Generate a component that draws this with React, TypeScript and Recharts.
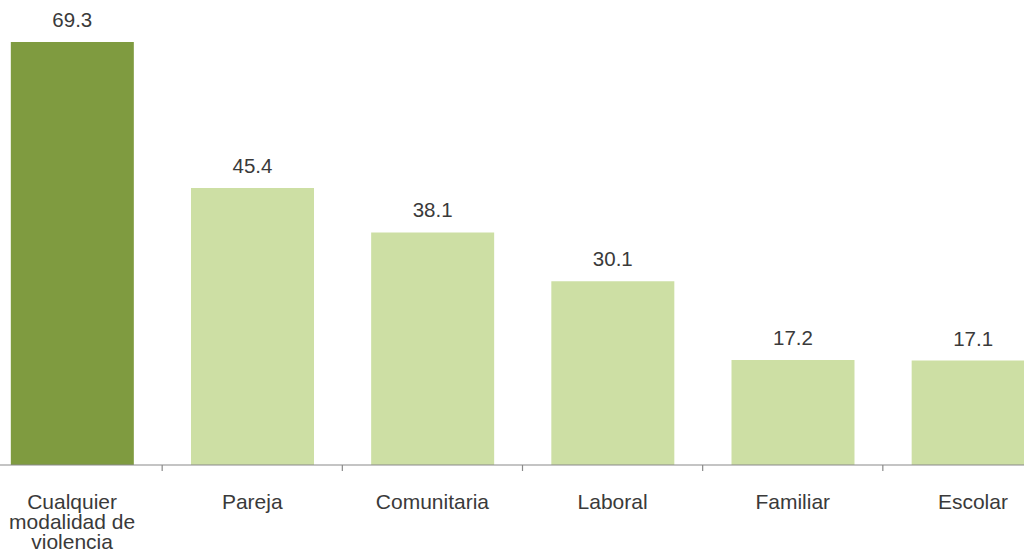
import React from "react";
import { BarChart, Bar, XAxis, YAxis, Cell, LabelList } from "recharts";

const categories = ["Cualquier modalidad de violencia", "Pareja", "Comunitaria", "Laboral", "Familiar", "Escolar"];
const categoryLines = [["Cualquier", "modalidad de", "violencia"], ["Pareja"], ["Comunitaria"], ["Laboral"], ["Familiar"], ["Escolar"]];
const values = [69.3, 45.4, 38.1, 30.1, 17.2, 17.1];
const barColors = ["#7F9B40", "#CDDFA4", "#CDDFA4", "#CDDFA4", "#CDDFA4", "#CDDFA4"];

const data = categories.map((c, i) => ({ name: c, value: values[i] }));

const FONT = "'Liberation Sans', Arial, sans-serif";

const CategoryTick = (props: any) => {
  const { x, y, index, width, visibleTicksCount } = props;
  const lines = categoryLines[index] || [props.payload.value];
  const band = Number(width) / Number(visibleTicksCount);
  const bx = x - band / 2;
  return (
    <g>
      {index > 0 && isFinite(bx) ? (
        <line x1={bx} x2={bx} y1={y} y2={y + 6} stroke="#8a8a8a" strokeWidth={1.2} />
      ) : null}
      <text
        x={x}
        y={y + 44}
        textAnchor="middle"
        style={{ fontFamily: FONT, fontSize: 21, fill: "#3a3a3a" }}
      >
        {lines.map((l: string, i: number) => (
          <tspan key={i} x={x} dy={i === 0 ? 0 : 20}>
            {l}
          </tspan>
        ))}
      </text>
    </g>
  );
};

export default function App() {
  return (
    <div style={{ position: "absolute", left: 0, top: 0, width: 1024, height: 556, overflow: "hidden", background: "#fff" }}>
      <div style={{ position: "absolute", left: -18, top: 0 }}>
        <BarChart
          width={1081}
          height={556}
          data={data}
          margin={{ top: 42, right: 0, left: 0, bottom: 90 }}
          barCategoryGap="16%"
        >
          <YAxis hide domain={[0, 69.3]} />
          <XAxis
            dataKey="name"
            height={1}
            tickLine={false}
            tickSize={0}
            tickMargin={0}
            axisLine={{ stroke: "#8a8a8a", strokeWidth: 1.2 }}
            interval={0}
            tick={<CategoryTick />}
          />
          <Bar dataKey="value" isAnimationActive={false}>
            {data.map((d, i) => (
              <Cell key={d.name} fill={barColors[i]} />
            ))}
            <LabelList
              dataKey="value"
              position="top"
              offset={15}
              style={{ fontFamily: FONT, fontSize: 20.5, fill: "#3a3a3a" }}
            />
          </Bar>
        </BarChart>
      </div>
    </div>
  );
}
